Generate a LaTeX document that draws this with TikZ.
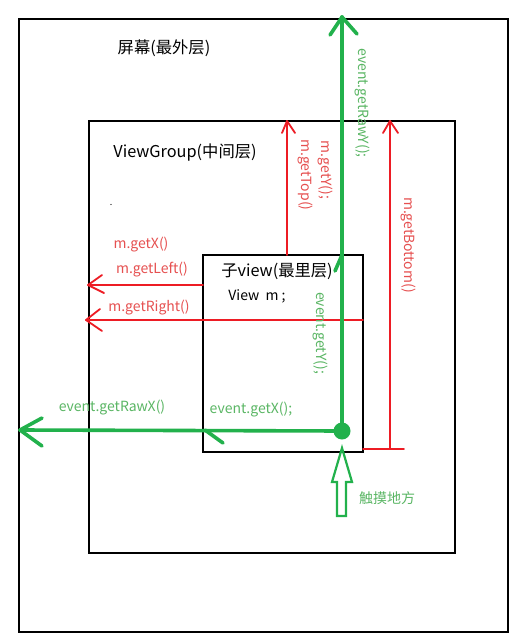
\documentclass[tikz,border=0pt]{standalone}
\usepackage{fontspec}
\setmainfont{Noto Sans CJK SC}
\definecolor{pgreen}{RGB}{34,177,76}
\definecolor{pred}{RGB}{237,28,36}
\definecolor{tred}{RGB}{230,80,80}
\definecolor{tgreen}{RGB}{90,182,100}
\begin{document}
\begin{tikzpicture}[x=1pt,y=-1pt,
  blk/.style={draw=black,line width=2pt},
  grn/.style={draw=pgreen,line width=3.6pt,line cap=round,line join=round},
  redl/.style={draw=pred,line width=1.8pt,line cap=round,line join=round},
  btxt/.style={text=black,inner sep=0pt,font=\fontsize{16.3}{18}\selectfont},
  rtxt/.style={text=tred,inner sep=0pt,font=\fontsize{14}{16}\selectfont},
  gtxt/.style={text=tgreen,inner sep=0pt,font=\fontsize{14}{16}\selectfont}]
\useasboundingbox (0,0) rectangle (522,642);
\fill[white] (0,0) rectangle (522,642);
% boxes
\draw[blk] (19,19) rectangle (508,632);
\draw[blk] (89,121) rectangle (455,553);
\draw[blk] (203,255) rectangle (363,452);
% coordinates
\coordinate (touch) at (342,431);
\coordinate (rawYtip) at (342,17);
\coordinate (rawXtip) at (20,430);
\coordinate (topS) at (287,255);
\coordinate (topT) at (287,121);
\coordinate (botL) at (363,449);
\coordinate (botR) at (404,449);
\coordinate (botS) at (390,449);
\coordinate (botT) at (390,121);
\coordinate (leftS) at (203,285);
\coordinate (leftT) at (88,285);
\coordinate (rightS) at (363,320);
\coordinate (rightT) at (86,320);
% red arrows
\draw[redl] (topS) -- (topT);
\draw[redl] (282,133) -- (topT) -- (295,133);
\draw[redl] (botL) -- (botR);
\draw[redl] (botS) -- (botT);
\draw[redl] (383,133) -- (botT) -- (398,133);
\draw[redl] (leftS) -- (leftT);
\draw[redl] (102,275) -- (leftT) -- (104,293);
\draw[redl] (rightS) -- (rightT);
\draw[redl] (100,309) -- (rightT) -- (102,331);
% green arrows
\draw[grn] (touch) -- (rawYtip);
\draw[grn] (330,35) -- (rawYtip) -- (357,34);
\draw[grn] (touch) -- (rawXtip);
\draw[grn] (42,418) -- (rawXtip) -- (42,446);
\draw[grn] (205,430) -- (223,443);
\draw[grn] (342,255) -- (335,271);
\fill[pgreen] (touch) circle (8.5);
% hollow arrow
\draw[draw=pgreen,line width=2.2pt,line join=miter] (337,516) -- (337,482) -- (332,482) -- (342,448) -- (352,482) -- (346,482) -- (346,516) -- cycle;
% texts
\node[btxt] (screen) at (164,48) {屏幕(最外层)};
\node[btxt] (vg) at (185,153) {ViewGroup(中间层)};
\node[text=black,inner sep=0pt,font=\fontsize{9}{10}\selectfont] (dot) at (111,205) {.};
\node[btxt] (child) at (277,271) {子view(最里层)};
\node[text=black,inner sep=0pt,font=\fontsize{14}{16}\selectfont] (viewm) at (257,296) {View\ \ m ;};
\node[rtxt] (getX) at (141,245) {m.getX()};
\node[rtxt] (getLeft) at (152,270) {m.getLeft()};
\node[rtxt] (getRight) at (149,308) {m.getRight()};
\node[rtxt,rotate=-90] (getY) at (325,170) {m.getY();};
\node[rtxt,rotate=-90] (getTop) at (305,175) {m.getTop()};
\node[rtxt,rotate=-90] (getBottom) at (408,245) {m.getBottom()};
\node[gtxt,rotate=-90] (rawY) at (362,103) {event.getRawY();};
\node[gtxt,rotate=-90] (evY) at (320,333) {event.getY();};
\node[gtxt] (rawX) at (112,408) {event.getRawX()};
\node[gtxt] (evX) at (251,410) {event.getX();};
\node[gtxt] (touchtxt) at (387,498) {触摸地方};
\end{tikzpicture}
\end{document}
